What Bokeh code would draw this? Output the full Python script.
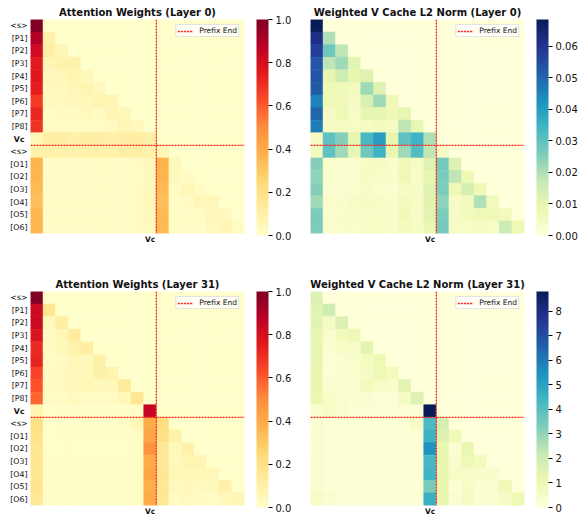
import numpy as np
from bokeh.plotting import figure
from bokeh.models import (LinearColorMapper, ColorBar, FixedTicker, Range1d,
                          ColumnDataSource, PrintfTickFormatter, LinearAxis)
from bokeh.layouts import row, column
from bokeh.embed import file_html
from bokeh.resources import INLINE

tokens = ["<s>", "[P1]", "[P2]", "[P3]", "[P4]", "[P5]", "[P6]", "[P7]", "[P8]",
          "Vc", "<s>", "[O1]", "[O2]", "[O3]", "[O4]", "[O5]", "[O6]"]
x_label = "Vc"
vc_index = 9
prefix_end = 10

attn_l0 = [
    [1.00],
    [0.90, 0.10],
    [0.82, 0.11, 0.07],
    [0.75, 0.07, 0.09, 0.09],
    [0.76, 0.05, 0.06, 0.08, 0.05],
    [0.74, 0.04, 0.04, 0.06, 0.08, 0.04],
    [0.67, 0.04, 0.04, 0.05, 0.05, 0.08, 0.07],
    [0.72, 0.03, 0.03, 0.03, 0.04, 0.03, 0.07, 0.05],
    [0.69, 0.03, 0.03, 0.03, 0.03, 0.03, 0.04, 0.07, 0.05],
    [0.06, 0.11, 0.11, 0.10, 0.11, 0.11, 0.10, 0.11, 0.12, 0.10],
    [0.10, 0.10, 0.10, 0.09, 0.10, 0.10, 0.10, 0.11, 0.11, 0.09, 0.06],
    [0.37, 0.02, 0.02, 0.02, 0.02, 0.02, 0.02, 0.02, 0.03, 0.05, 0.37, 0.05],
    [0.36, 0.02, 0.02, 0.02, 0.02, 0.02, 0.02, 0.02, 0.03, 0.05, 0.36, 0.05, 0.03],
    [0.35, 0.02, 0.02, 0.02, 0.02, 0.02, 0.02, 0.02, 0.03, 0.05, 0.35, 0.03, 0.06, 0.03],
    [0.33, 0.02, 0.02, 0.02, 0.02, 0.02, 0.02, 0.02, 0.03, 0.05, 0.33, 0.02, 0.03, 0.06, 0.05],
    [0.36, 0.02, 0.02, 0.02, 0.02, 0.02, 0.02, 0.02, 0.03, 0.05, 0.35, 0.02, 0.02, 0.03, 0.05, 0.04],
    [0.36, 0.02, 0.02, 0.02, 0.02, 0.02, 0.02, 0.02, 0.03, 0.04, 0.35, 0.02, 0.02, 0.02, 0.04, 0.07, 0.03],
]

vnorm_l0 = [
    [0.0685],
    [0.062, 0.020],
    [0.058, 0.028, 0.018],
    [0.053, 0.018, 0.022, 0.011],
    [0.053, 0.010, 0.015, 0.010, 0.012],
    [0.052, 0.008, 0.007, 0.006, 0.022, 0.012],
    [0.045, 0.008, 0.007, 0.005, 0.013, 0.022, 0.008],
    [0.050, 0.005, 0.008, 0.004, 0.010, 0.010, 0.008, 0.010],
    [0.046, 0.005, 0.005, 0.004, 0.005, 0.006, 0.005, 0.018, 0.010],
    [0.005, 0.030, 0.025, 0.010, 0.033, 0.040, 0.010, 0.030, 0.035, 0.020],
    [0.006, 0.030, 0.022, 0.010, 0.028, 0.035, 0.010, 0.022, 0.032, 0.018, 0.004],
    [0.025, 0.003, 0.003, 0.002, 0.004, 0.005, 0.003, 0.007, 0.005, 0.012, 0.027, 0.012],
    [0.024, 0.003, 0.003, 0.002, 0.005, 0.004, 0.003, 0.008, 0.004, 0.010, 0.026, 0.018, 0.008],
    [0.025, 0.002, 0.002, 0.003, 0.004, 0.003, 0.002, 0.005, 0.004, 0.012, 0.026, 0.008, 0.014, 0.008],
    [0.022, 0.003, 0.003, 0.004, 0.005, 0.004, 0.003, 0.006, 0.005, 0.011, 0.024, 0.004, 0.006, 0.020, 0.006],
    [0.026, 0.002, 0.003, 0.003, 0.004, 0.004, 0.003, 0.007, 0.004, 0.011, 0.026, 0.004, 0.006, 0.008, 0.008, 0.006],
    [0.026, 0.003, 0.003, 0.003, 0.004, 0.004, 0.003, 0.006, 0.005, 0.009, 0.027, 0.004, 0.004, 0.005, 0.004, 0.016, 0.008],
]

attn_l31 = [
    [1.00],
    [0.83, 0.17],
    [0.83, 0.05, 0.12],
    [0.78, 0.03, 0.06, 0.13],
    [0.71, 0.03, 0.05, 0.09, 0.12],
    [0.73, 0.03, 0.03, 0.06, 0.05, 0.10],
    [0.65, 0.03, 0.04, 0.05, 0.05, 0.10, 0.08],
    [0.62, 0.03, 0.04, 0.05, 0.06, 0.05, 0.05, 0.14],
    [0.58, 0.03, 0.03, 0.04, 0.03, 0.03, 0.03, 0.06, 0.17],
    [0.08, 0.01, 0.01, 0.01, 0.01, 0.01, 0.01, 0.01, 0.01, 0.85],
    [0.20, 0.01, 0.01, 0.01, 0.01, 0.01, 0.01, 0.02, 0.06, 0.40, 0.22],
    [0.19, 0.01, 0.01, 0.01, 0.01, 0.01, 0.01, 0.01, 0.02, 0.42, 0.20, 0.10],
    [0.17, 0.01, 0.01, 0.01, 0.01, 0.01, 0.01, 0.01, 0.02, 0.48, 0.15, 0.05, 0.10],
    [0.17, 0.02, 0.01, 0.01, 0.01, 0.01, 0.01, 0.01, 0.02, 0.40, 0.15, 0.05, 0.08, 0.08],
    [0.16, 0.02, 0.01, 0.01, 0.01, 0.01, 0.01, 0.01, 0.02, 0.42, 0.16, 0.06, 0.06, 0.06, 0.05],
    [0.18, 0.02, 0.01, 0.01, 0.01, 0.01, 0.01, 0.01, 0.02, 0.38, 0.16, 0.04, 0.05, 0.04, 0.05, 0.10],
    [0.15, 0.02, 0.01, 0.01, 0.01, 0.01, 0.01, 0.01, 0.02, 0.40, 0.16, 0.03, 0.04, 0.03, 0.03, 0.05, 0.07],
]

vnorm_l31 = [
    [1.6],
    [1.4, 2.0],
    [1.4, 0.6, 1.6],
    [1.3, 0.4, 0.8, 1.0],
    [1.3, 0.3, 0.5, 0.5, 1.4],
    [1.3, 0.2, 0.3, 0.4, 0.7, 1.0],
    [1.2, 0.2, 0.3, 0.4, 0.6, 1.0, 0.8],
    [1.2, 0.3, 0.3, 0.3, 0.8, 0.5, 0.4, 1.4],
    [1.1, 0.5, 0.4, 0.3, 0.3, 0.2, 0.2, 0.6, 1.6],
    [0.3, 0.5, 0.4, 0.2, 0.2, 0.2, 0.2, 0.2, 0.2, 8.8],
    [0.3, 0.2, 0.2, 0.2, 0.2, 0.1, 0.1, 0.2, 0.5, 4.2, 1.8],
    [0.3, 0.2, 0.2, 0.1, 0.1, 0.1, 0.1, 0.1, 0.2, 4.5, 1.6, 0.9],
    [0.3, 0.2, 0.1, 0.1, 0.1, 0.1, 0.1, 0.1, 0.2, 5.4, 1.2, 0.3, 1.2],
    [0.3, 0.2, 0.1, 0.1, 0.1, 0.1, 0.1, 0.1, 0.2, 4.3, 1.2, 0.4, 1.0, 0.8],
    [0.3, 0.2, 0.1, 0.1, 0.1, 0.1, 0.1, 0.1, 0.2, 4.4, 1.2, 0.5, 0.5, 0.4, 0.4],
    [0.4, 0.2, 0.2, 0.1, 0.1, 0.1, 0.1, 0.1, 0.2, 3.4, 1.2, 0.2, 0.5, 0.3, 0.4, 0.9],
    [0.5, 0.3, 0.2, 0.1, 0.1, 0.1, 0.1, 0.1, 0.2, 4.6, 1.2, 0.3, 0.6, 0.3, 0.3, 0.5, 1.0],
]

titles = ["Attention Weights (Layer 0)", "Weighted V Cache L2 Norm (Layer 0)",
          "Attention Weights (Layer 31)", "Weighted V Cache L2 Norm (Layer 31)"]
legend_text = "Prefix End"

attn_ticks = [0.0, 0.2, 0.4, 0.6, 0.8, 1.0]
vnorm_l0_ticks = [0.0, 0.01, 0.02, 0.03, 0.04, 0.05, 0.06]
vnorm_l31_ticks = [0, 1, 2, 3, 4, 5, 6, 7, 8]

YLORRD = ["#ffffcc", "#ffeda0", "#fed976", "#feb24c", "#fd8d3c",
          "#fc4e2a", "#e31a1c", "#bd0026", "#800026"]
YLGNBU = ["#ffffd9", "#edf8b1", "#c7e9b4", "#7fcdbb", "#41b6c4",
          "#1d91c0", "#225ea8", "#253494", "#081d58"]


def interp(colors, n=256):
    rgb = np.array([[int(c[i:i + 2], 16) for i in (1, 3, 5)] for c in colors], float)
    pos = np.linspace(0, 1, len(colors))
    t = np.linspace(0, 1, n)
    out = []
    for tt in t:
        r = np.interp(tt, pos, rgb[:, 0])
        g = np.interp(tt, pos, rgb[:, 1])
        b = np.interp(tt, pos, rgb[:, 2])
        out.append("#%02x%02x%02x" % (int(round(r)), int(round(g)), int(round(b))))
    return out


FONT = "DejaVu Sans"
TXT = "#111111"
LINE_RED = "#ff1a1a"
S = 214          # frame size (px)
N = len(tokens)


def no_ticks(ax):
    ax.axis_line_color = None
    ax.major_tick_line_color = None
    ax.minor_tick_line_color = None
    ax.major_tick_out = 0
    ax.major_tick_in = 0
    ax.minor_tick_out = 0
    ax.minor_tick_in = 0


def make_panel(mat, colors, ticks, fmt, title, b_left, b_right, b_top, b_bottom, show_y):
    xs, ys, vs = [], [], []
    for i in range(N):
        for j in range(N):
            xs.append(j + 0.5)
            ys.append(i + 0.5)
            vs.append(mat[i][j] if j < len(mat[i]) else 0.0)
    src = ColumnDataSource(dict(x=xs, y=ys, v=vs))
    high = max(max(r) for r in mat)
    mapper = LinearColorMapper(palette=interp(colors), low=0, high=high)

    p = figure(frame_width=S, frame_height=S, output_backend="svg",
               toolbar_location=None, x_range=Range1d(0, N), y_range=Range1d(N, 0),
               min_border_left=b_left, min_border_right=b_right,
               min_border_top=b_top, min_border_bottom=b_bottom,
               tools="")
    p.rect(x="x", y="y", width=1, height=1, source=src,
           fill_color={"field": "v", "transform": mapper},
           line_color={"field": "v", "transform": mapper}, line_width=0.6)

    p.line([prefix_end, prefix_end], [0, N], line_color=LINE_RED, line_dash="2 1",
           line_width=1.3, legend_label=legend_text)
    p.line([0, N], [prefix_end, prefix_end], line_color=LINE_RED, line_dash="2 1",
           line_width=1.3)

    p.title.text = title
    p.title.align = "center"
    p.title.text_font = FONT
    p.title.text_font_size = "10px"
    p.title.text_font_style = "bold"
    p.title.text_color = TXT
    p.title.standoff = 4

    p.xgrid.visible = False
    p.ygrid.visible = False
    p.outline_line_color = None

    xa = p.xaxis[0]
    xa.ticker = FixedTicker(ticks=[vc_index + 0.5])
    xa.major_label_overrides = {vc_index + 0.5: x_label}
    xa.major_label_text_font = FONT
    xa.major_label_text_font_size = "7.5px"
    xa.major_label_text_font_style = "bold"
    xa.major_label_text_color = TXT
    no_ticks(xa)
    xa.major_label_standoff = 1

    ya = p.yaxis[0]
    if show_y:
        ya.ticker = FixedTicker(ticks=[i + 0.5 for i in range(N)])
        ya.major_label_overrides = {i + 0.5: ("" if i == vc_index else t)
                                    for i, t in enumerate(tokens)}
        ya.major_label_text_font = FONT
        ya.major_label_text_font_size = "7.8px"
        ya.major_label_text_color = TXT
        no_ticks(ya)
        ya.major_label_standoff = 3
        # bold "Vc" row label, drawn by a second left axis pulled onto the first
        yb = LinearAxis(ticker=FixedTicker(ticks=[vc_index + 0.5]),
                        major_label_overrides={vc_index + 0.5: tokens[vc_index]},
                        major_label_text_font=FONT, major_label_text_font_size="7.8px",
                        major_label_text_font_style="bold", major_label_text_color=TXT,
                        major_label_standoff=-17)
        no_ticks(yb)
        p.add_layout(yb, "left")
    else:
        ya.visible = False

    lg = p.legend[0]
    lg.location = "top_right"
    lg.margin = 5
    lg.padding = 1
    lg.spacing = 0
    lg.label_text_font = FONT
    lg.label_text_font_size = "7.5px"
    lg.label_text_color = TXT
    lg.label_height = 8
    lg.glyph_height = 8
    lg.glyph_width = 16
    lg.label_standoff = 6
    lg.border_line_color = "#cccccc"
    lg.background_fill_alpha = 0.8

    # axis with one invisible tick, used only as a 12px gap before the colour bar
    gap = LinearAxis(ticker=FixedTicker(ticks=[0.5]), major_label_overrides={0.5: ""},
                     major_label_standoff=0)
    no_ticks(gap)
    gap.major_tick_out = 12
    p.add_layout(gap, "right")

    cb = ColorBar(color_mapper=mapper, ticker=FixedTicker(ticks=ticks),
                  formatter=PrintfTickFormatter(format=fmt),
                  width=12, height=S + 2, padding=0, margin=0,
                  major_label_text_font=FONT, major_label_text_font_size="10px",
                  major_label_text_color=TXT,
                  major_tick_in=0, major_tick_out=4, major_tick_line_color="black",
                  minor_tick_line_color=None, bar_line_color=None, label_standoff=3)
    p.add_layout(cb, "right")
    return p


pA = make_panel(attn_l0, YLORRD, attn_ticks, "%.1f", titles[0], 30, 50, 19, 39, True)
pB = make_panel(vnorm_l0, YLGNBU, vnorm_l0_ticks, "%.2f", titles[1], 16, 55, 19, 39, False)
pC = make_panel(attn_l31, YLORRD, attn_ticks, "%.1f", titles[2], 30, 50, 19, 10, True)
pD = make_panel(vnorm_l31, YLGNBU, vnorm_l31_ticks, "%d", titles[3], 16, 55, 19, 10, False)

layout = row(column(pA, pC), column(pB, pD))
open("out.html", "w").write(file_html(layout, INLINE))
